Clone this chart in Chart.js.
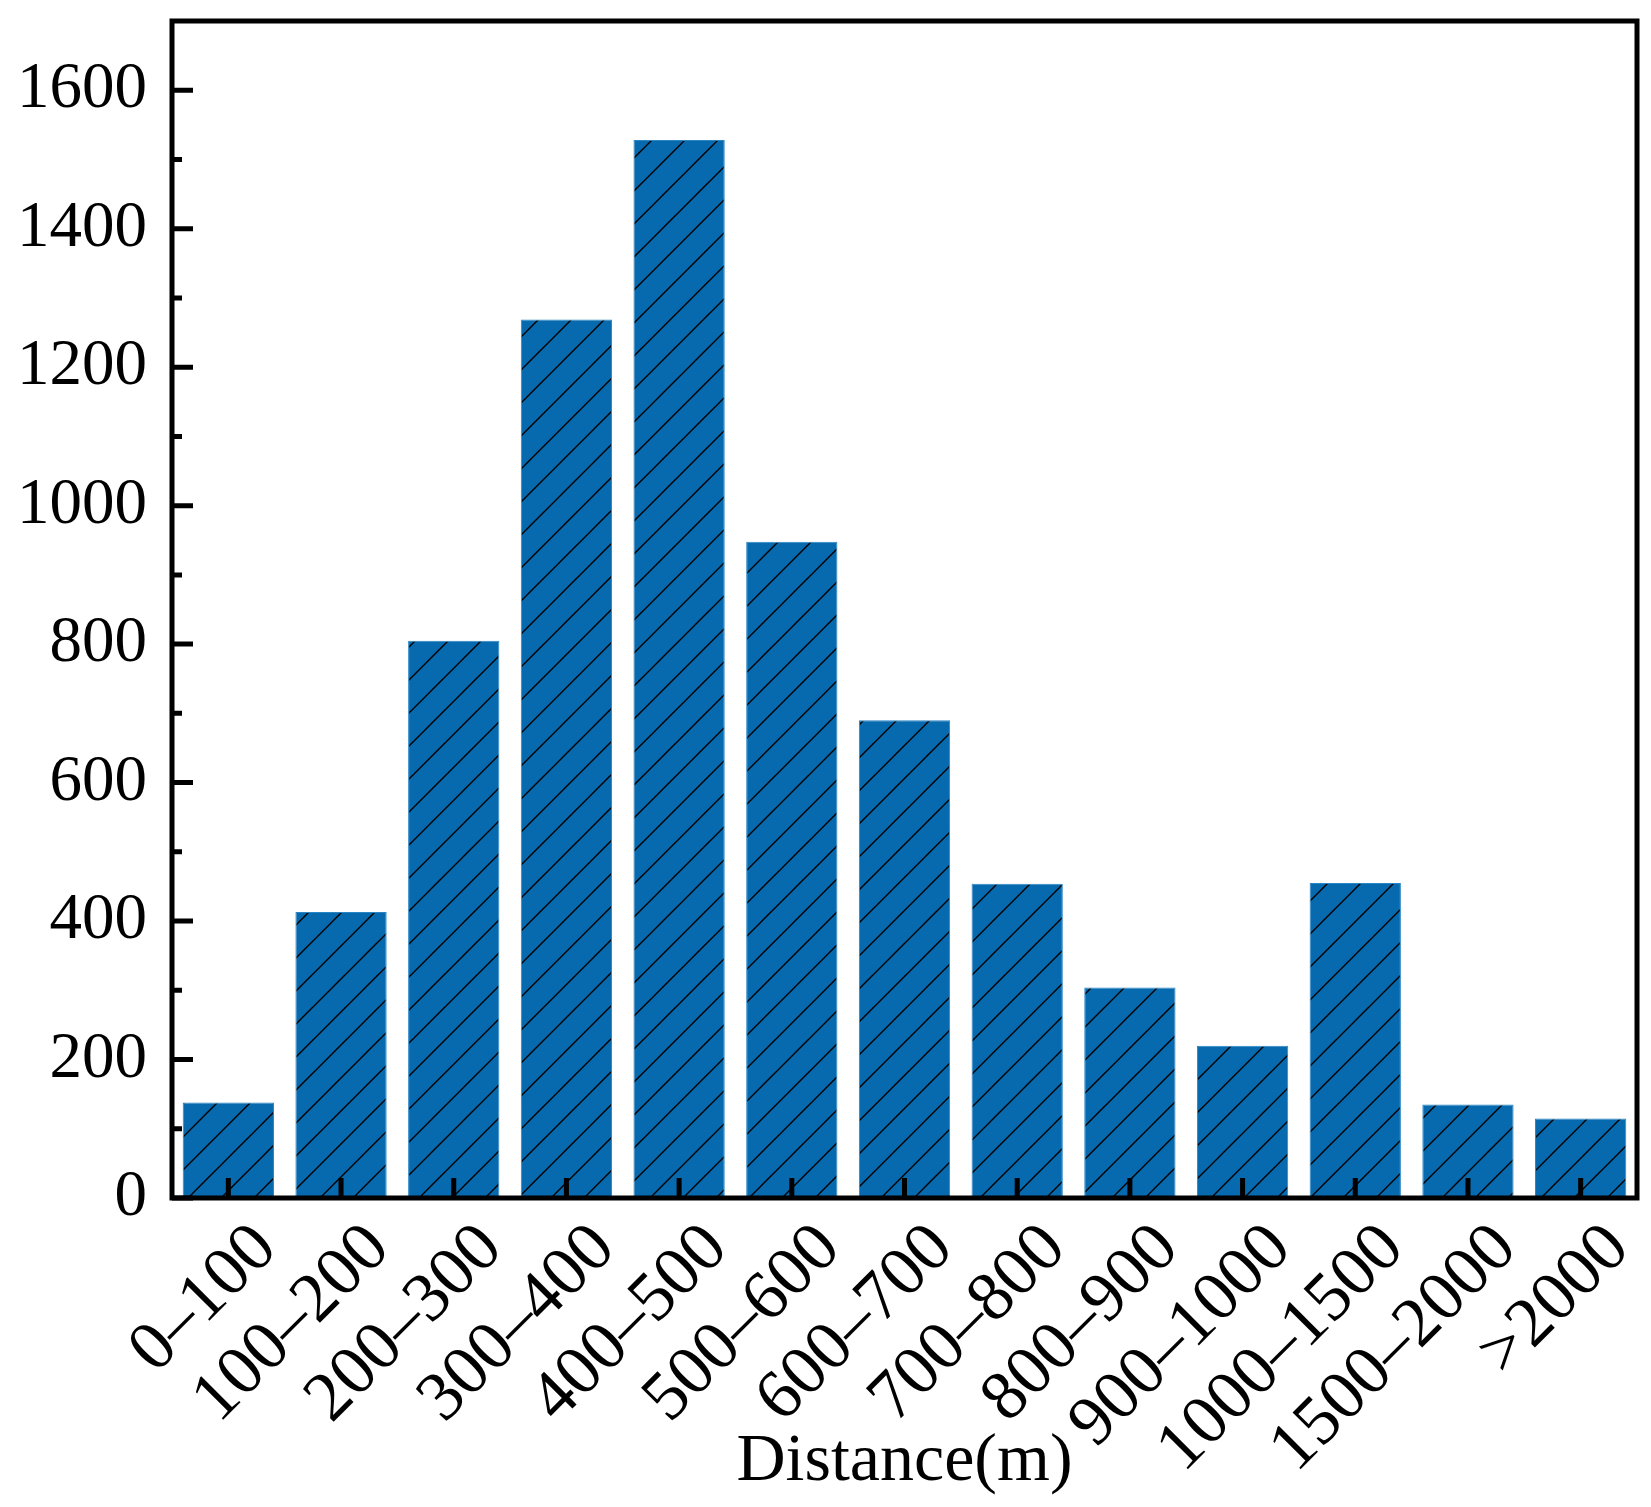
<!DOCTYPE html>
<html>
<head>
<meta charset="utf-8">
<script src="https://cdn.jsdelivr.net/npm/chart.js@4/dist/chart.umd.min.js"></script>
<style>
  html, body { margin:0; padding:0; background:#fff; }
  #wrap { width:1651px; height:1507px; }
</style>
</head>
<body>
<div id="wrap"><canvas id="c" width="1651" height="1507"></canvas></div>
<script>
'use strict';

// ── Data ──────────────────────────────────────────────────────────────────────
var categories = ['0\u2013100','100\u2013200','200\u2013300','300\u2013400','400\u2013500','500\u2013600',
                  '600\u2013700','700\u2013800','800\u2013900','900\u20131000','1000\u20131500','1500\u20132000','>2000'];
var counts     = [138, 413, 805, 1269, 1528, 948, 690, 454, 304, 220, 455, 135, 115];
var yMajor     = [0, 200, 400, 600, 800, 1000, 1200, 1400, 1600];
var yMinor     = [100, 300, 500, 700, 900, 1100, 1300, 1500];

var FONT = 'Liberation Serif, Times New Roman, serif';
var BLUE = '#0769ae';

// hatch pattern: thin black "/" lines on blue
function hatch() {
  var s = 33, cv = document.createElement('canvas');
  cv.width = s; cv.height = s;
  var g = cv.getContext('2d');
  g.fillStyle = BLUE; g.fillRect(0, 0, s, s);
  g.strokeStyle = '#000'; g.lineWidth = 1.4;
  g.beginPath();
  g.moveTo(0, s); g.lineTo(s, 0);
  g.moveTo(-2, 2); g.lineTo(2, -2);
  g.moveTo(s - 2, s + 2); g.lineTo(s + 2, s - 2);
  g.stroke();
  return g.createPattern(cv, 'repeat');
}

// ── Frame + inward ticks ──────────────────────────────────────────────────────
var frame = {
  id: 'frame',
  afterDatasetsDraw: function(chart) {
    var ctx = chart.ctx, a = chart.chartArea, x = chart.scales.x, y = chart.scales.y;
    ctx.save();
    ctx.strokeStyle = '#000';
    ctx.lineWidth = 5;
    ctx.beginPath();
    yMajor.forEach(function(v) { var p = y.getPixelForValue(v); ctx.moveTo(a.left, p); ctx.lineTo(a.left + 21, p); });
    yMinor.forEach(function(v) { var p = y.getPixelForValue(v); ctx.moveTo(a.left, p); ctx.lineTo(a.left + 10, p); });
    categories.forEach(function(c, i) { var p = x.getPixelForValue(i); ctx.moveTo(p, a.bottom); ctx.lineTo(p, a.bottom - 20); });
    ctx.stroke();
    ctx.strokeRect(a.left, a.top, a.right - a.left, a.bottom - a.top);
    ctx.restore();
  }
};

new Chart(document.getElementById('c'), {
  type: 'bar',
  data: {
    labels: categories,
    datasets: [{ data: counts, backgroundColor: hatch(), borderColor: '#2a85c4', borderWidth: 1,
                 categoryPercentage: 1, barPercentage: 0.81 }]
  },
  options: {
    responsive: false, devicePixelRatio: 1, animation: false,
    layout: { padding: { top: 21, right: 14, left: 0, bottom: 4 } },
    plugins: { legend: { display: false }, tooltip: { enabled: false } },
    scales: {
      x: {
        grid: { display: false, drawTicks: false }, border: { display: false },
        ticks: { color: '#000', font: { family: FONT, size: 70 }, maxRotation: 45, minRotation: 45,
                 padding: 10, labelOffset: 38, autoSkip: false },
        title: { display: true, text: 'Distance(m)', color: '#000', font: { family: FONT, size: 68 }, padding: 0 },
        afterFit: function(s) { s.height = 305; s.paddingLeft = 0; s.paddingRight = 0; }
      },
      y: {
        min: 0, max: 1700,
        grid: { display: false, drawTicks: false }, border: { display: false },
        ticks: { color: '#000', font: { family: FONT, size: 65 }, padding: 25,
                 callback: function(v) { return String(v); } },
        afterBuildTicks: function(s) { s.ticks = yMajor.map(function(v) { return { value: v }; }); },
        afterFit: function(s) { s.width = 172; s.paddingTop = 0; s.paddingBottom = 0; }
      }
    }
  },
  plugins: [frame]
});
</script>
</body>
</html>
